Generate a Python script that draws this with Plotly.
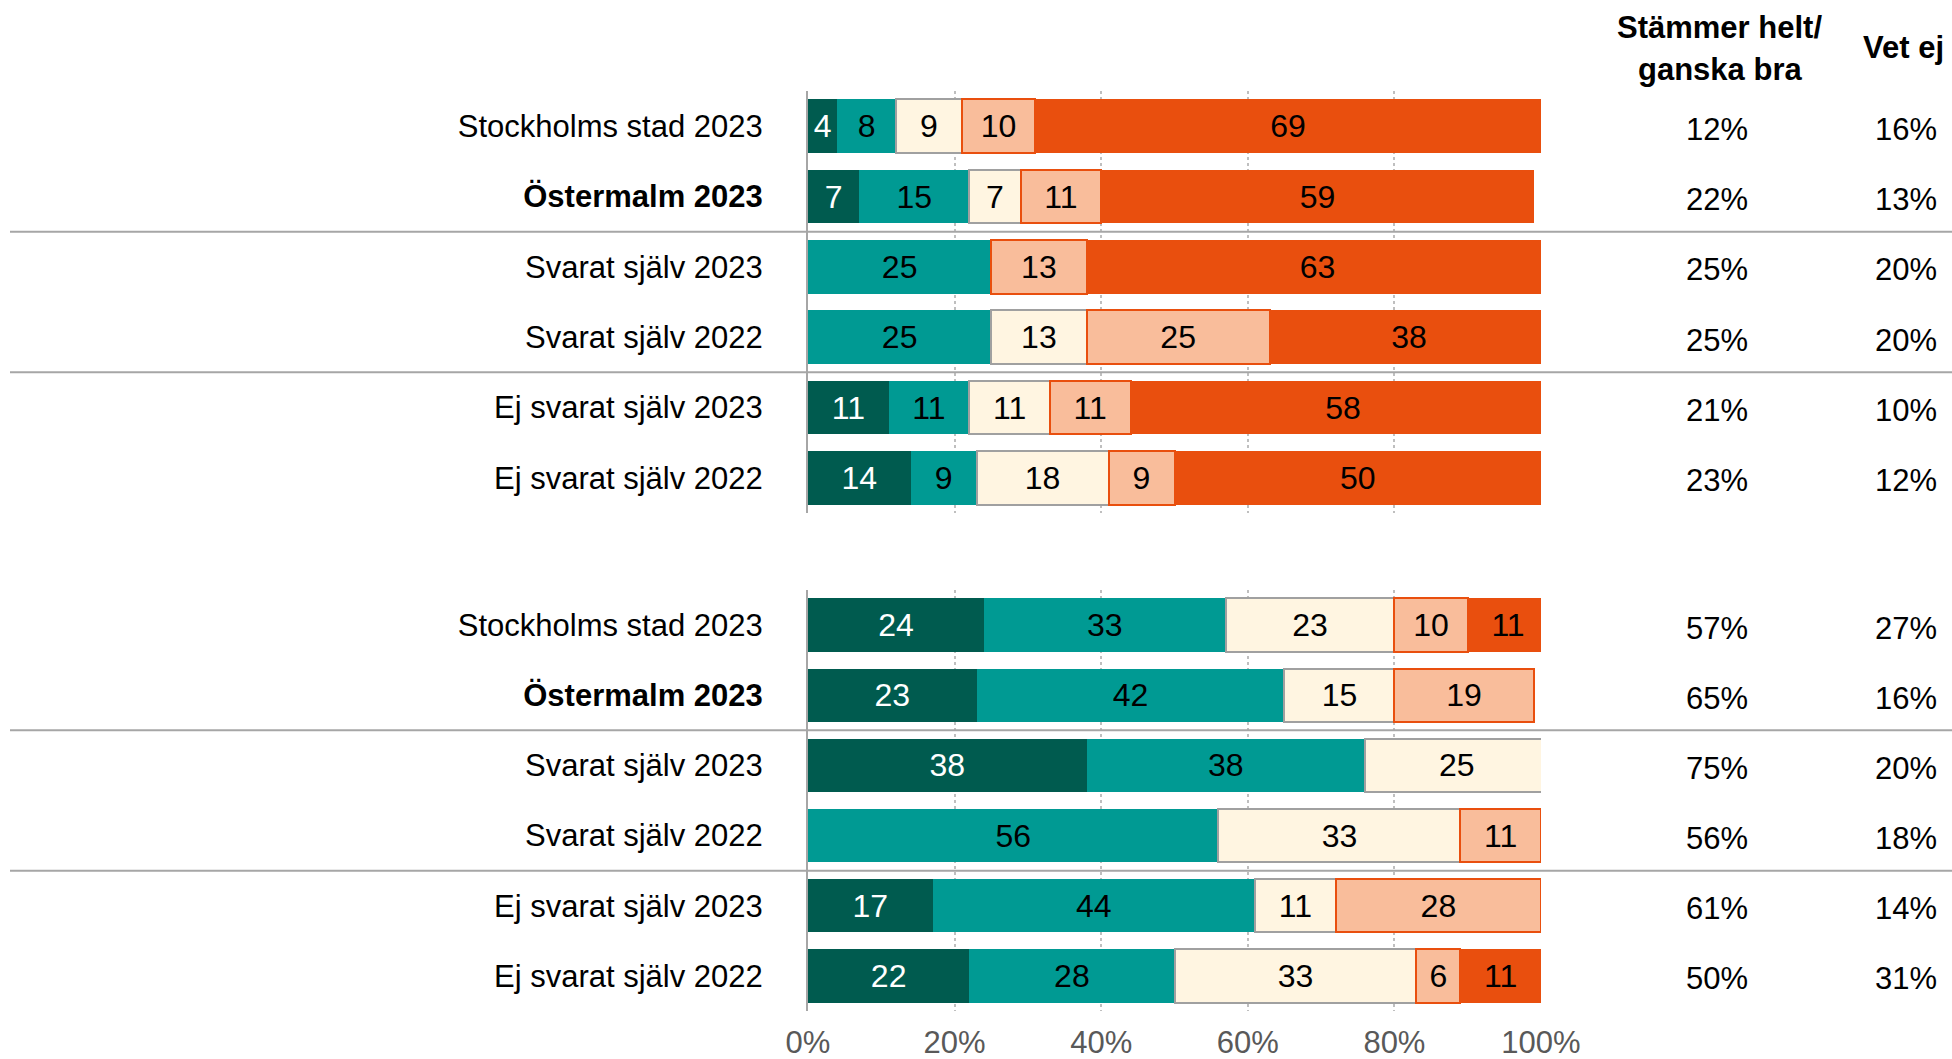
import plotly.graph_objects as go

# Row categories (same for both panels) and their displayed labels
categories = [
    "Stockholms stad 2023",
    "Östermalm 2023",
    "Svarat själv 2023",
    "Svarat själv 2022",
    "Ej svarat själv 2023",
    "Ej svarat själv 2022",
]
category_labels = [
    "Stockholms stad 2023",
    "<b>Östermalm 2023</b>",
    "Svarat själv 2023",
    "Svarat själv 2022",
    "Ej svarat själv 2023",
    "Ej svarat själv 2022",
]

series_names = [
    "Stämmer helt",
    "Stämmer ganska bra",
    "Varken eller",
    "Stämmer ganska dåligt",
    "Stämmer inte alls",
]

# Upper panel (percent per response)
top_helt = [4, 7, None, None, 11, 14]
top_ganska_bra = [8, 15, 25, 25, 11, 9]
top_varken = [9, 7, None, 13, 11, 18]
top_ganska_daligt = [10, 11, 13, 25, 11, 9]
top_inte_alls = [69, 59, 63, 38, 58, 50]
top_bra_total = [12, 22, 25, 25, 21, 23]
top_vet_ej = [16, 13, 20, 20, 10, 12]

# Lower panel (percent per response)
bottom_helt = [24, 23, 38, None, 17, 22]
bottom_ganska_bra = [33, 42, 38, 56, 44, 28]
bottom_varken = [23, 15, 25, 33, 11, 33]
bottom_ganska_daligt = [10, 19, None, 11, 28, 6]
bottom_inte_alls = [11, None, None, None, None, 11]
bottom_bra_total = [57, 65, 75, 56, 61, 50]
bottom_vet_ej = [27, 16, 20, 18, 14, 31]

x_ticks = [0, 20, 40, 60, 80, 100]
x_tick_labels = ["0%", "20%", "40%", "60%", "80%", "100%"]

header_total = ["Stämmer helt/", "ganska bra"]
header_vet_ej = "Vet ej"

FONT = "Liberation Sans, Arial, Helvetica, sans-serif"
fill_colors = ["#005B4F", "#009A93", "#FFF5E1", "#F9BD9B", "#E94F0E"]
edge_colors = ["#005B4F", "#009A93", "#A0A0A0", "#E94F0E", "#E94F0E"]
edge_widths = [0, 0, 2, 2, 0]
text_colors = ["white", "black", "black", "black", "black"]

W, H = 1952, 1059
L, R, T, B = 808, 411, 91, 48
plot_w = W - L - R
plot_h = H - T - B


def py(px):
    """Pixel row (from top) to paper y."""
    return (H - B - px) / plot_h


def px_x(px):
    """Pixel column to paper x."""
    return (px - L) / plot_w


fig = go.Figure()

panels = [
    ("x", "y", [top_helt, top_ganska_bra, top_varken, top_ganska_daligt, top_inte_alls]),
    ("x2", "y2", [bottom_helt, bottom_ganska_bra, bottom_varken, bottom_ganska_daligt, bottom_inte_alls]),
]
for xa, ya, series in panels:
    for i, vals in enumerate(series):
        fig.add_trace(go.Bar(
            x=vals,
            y=categories,
            orientation="h",
            name=series_names[i],
            xaxis=xa,
            yaxis=ya,
            marker=dict(color=fill_colors[i],
                        line=dict(color=edge_colors[i], width=edge_widths[i])),
            text=["" if v is None else str(v) for v in vals],
            textposition="inside",
            insidetextanchor="middle",
            textangle=0,
            constraintext="none",
            textfont=dict(family=FONT, size=32, color=text_colors[i]),
            hoverinfo="skip",
            showlegend=False,
        ))

annotations = []
# Right-hand summary columns
for yref, totals, vet in [("y", top_bra_total, top_vet_ej), ("y2", bottom_bra_total, bottom_vet_ej)]:
    for cat, t, v in zip(categories, totals, vet):
        annotations.append(dict(x=px_x(1716.5), y=cat, xref="paper", yref=yref,
                                text=f"{t}%", showarrow=False, xanchor="center",
                                yanchor="middle", yshift=-3,
                                font=dict(family=FONT, size=31, color="black")))
        annotations.append(dict(x=px_x(1906), y=cat, xref="paper", yref=yref,
                                text=f"{v}%", showarrow=False, xanchor="center",
                                yanchor="middle", yshift=-3,
                                font=dict(family=FONT, size=31, color="black")))

# Column headers
annotations.append(dict(x=px_x(1719), y=py(28), xref="paper", yref="paper",
                        text=f"<b>{header_total[0]}</b>", showarrow=False,
                        xanchor="center", yanchor="middle",
                        font=dict(family=FONT, size=31, color="black")))
annotations.append(dict(x=px_x(1720), y=py(69), xref="paper", yref="paper",
                        text=f"<b>{header_total[1]}</b>", showarrow=False,
                        xanchor="center", yanchor="middle",
                        font=dict(family=FONT, size=31, color="black")))
annotations.append(dict(x=px_x(1903), y=py(48), xref="paper", yref="paper",
                        text=f"<b>{header_vet_ej}</b>", showarrow=False,
                        xanchor="center", yanchor="middle",
                        font=dict(family=FONT, size=31, color="black")))

# Group separators between rows 2/3 and 4/5 in each panel
shapes = []
for yref in ("y", "y2"):
    for pos in (1.5, 3.5):
        shapes.append(dict(type="line", xref="paper", yref=yref,
                           x0=px_x(10), x1=px_x(W), y0=pos, y1=pos,
                           line=dict(color="#A6A6A6", width=2), layer="above"))

common_x = dict(range=[0, 100], tickvals=x_ticks, ticktext=x_tick_labels,
                showgrid=True, gridcolor="#BFBFBF", gridwidth=1.5, griddash="dot",
                zeroline=False, showline=False, ticks="", fixedrange=True,
                automargin=False)
common_y = dict(type="category", autorange="reversed", showgrid=False,
                zeroline=False, showline=True, linecolor="#A6A6A6", linewidth=2,
                ticks="", tickvals=categories, ticktext=category_labels,
                tickfont=dict(family=FONT, size=31, color="black"),
                ticklabelstandoff=37, fixedrange=True, automargin=False)

fig.update_layout(
    width=W, height=H,
    margin=dict(l=L, r=R, t=T, b=B, pad=0, autoexpand=False),
    paper_bgcolor="white", plot_bgcolor="white",
    barmode="stack", bargap=0.24,
    font=dict(family=FONT, size=31, color="black"),
    xaxis=dict(domain=[0, 1], anchor="y", showticklabels=False, **common_x),
    yaxis=dict(domain=[py(513), 1], anchor="x", **common_y),
    xaxis2=dict(domain=[0, 1], anchor="y2", showticklabels=True,
                tickfont=dict(family=FONT, size=31, color="#595959"),
                ticklabelstandoff=10, **common_x),
    yaxis2=dict(domain=[0, py(590)], anchor="x2", **common_y),
    annotations=annotations,
    shapes=shapes,
)

fig.write_html("out.html")
